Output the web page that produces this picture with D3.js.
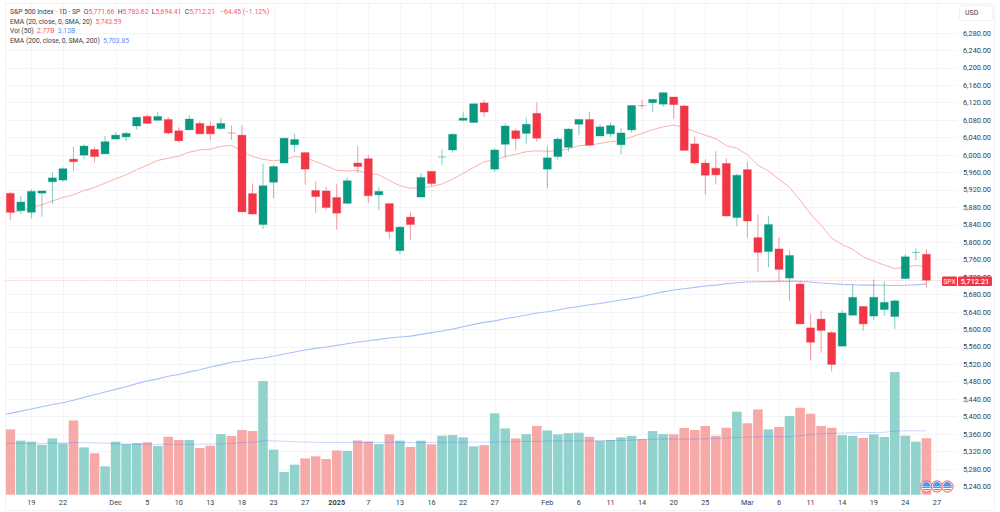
<!DOCTYPE html>
<html>
<head>
<meta charset="utf-8">
<script src="https://cdn.jsdelivr.net/npm/d3@7"></script>
<style>
  html, body { margin: 0; padding: 0; background: #fff; }
  svg { display: block; }
  text { font-family: Roboto, "Noto Sans", sans-serif; }
</style>
</head>
<body>
<svg id="chart" width="1000" height="512"></svg>
<script>
// S&P 500 daily candles, 15 Nov 2024 to 26 Mar 2025
const open = [5911.5,5871.7,5868,5912,5938,5942,5990,5999,6012,6002,6036,6041,6066,6088,6079,6081,6055,6057,6072,6066,6060,6051,6045,5911,5840,5937,5981,6023,6005,5918,5917,5902,5888.5,5981,5991,5908,5888,5780,5857,5903,5962,5994,6011,6079,6074,6119,5967,6024,6055,6049,6095,5967,5996,6017,6070,6081,6043,6048,6023,6057,6114,6119.5,6116,6132.5,6112,6025,5981,5969,5980,5856,5966,5810,5778,5784,5717,5703.5,5603,5623,5592,5561,5632,5652,5630,5645,5629,5716,5775,5771.66];
const high = [5914.5,5905,5920.6,5918,5960,5971,6018,6024,6018,6043,6052,6053,6087,6092,6098,6086,6063,6091,6077,6077,6085,6067,6068,5934,5980,5977,6039,6048,6005,5939,5927,5933,5948,6020,5999,5925,5888,5836,5870,5957.4,5962,6013,6049,6099,6117,6126,6015,6072,6060.6,6085,6120,6020,6040,6061,6081,6099,6070,6074,6061,6113.5,6126,6127,6144,6133,6114,6041.5,5989.5,6008,5992,5957,5983.4,5863,5859,5810,5781,5709,5635,5642,5596,5643,5703.5,5652,5714,5710,5668,5772,5785,5783.62];
const low = [5850,5864,5854,5858,5887,5938,5963,5990,5983,6002,6036,6031,6058,6072,6079,6046,6028,6057,6047,6034,6058,6034,5868,5864,5830,5901,5981,6006,5932,5867,5873,5828,5888,5959,5890,5873,5807,5772,5804,5903,5928,5977,6005,6076,6074,6087,5961,5994,6011,6026,6030,5923,5989,6007,6045,6022,6043,6041,6001,6051,6106,6099,6110,6083,6010,5977,5908,5932,5859,5836,5810,5732,5742,5710,5665,5612,5528,5546,5503,5561,5632,5596,5621,5631,5601,5716,5758,5694.41];
const close = [5868,5891.6,5916,5917,5947,5968,5984,6020,5996,6030,6045,6049,6086,6072,6088,6050,6032,6082,6048,6048,6072,6049,5869,5864,5929,5973,6038,6035,5967,5904,5879,5866,5940.5,5973,5906,5916,5824,5834,5840,5948,5934,5996,6047,6084,6117,6098,6011,6066,6037,6070,6038,5993,6036,6059,6081,6022,6064,6067,6050,6113,6113,6127,6142.4,6115,6010,5981,5953,5954,5859.5,5953,5848,5776,5840,5737,5769,5612,5570,5597,5519,5637,5673,5612,5673,5661.5,5665,5766,5777,5712.21];
const volume = [3.20,2.65,2.60,2.45,2.76,2.52,3.64,2.32,2.03,1.39,2.60,2.48,2.53,2.57,2.39,2.84,2.68,2.68,2.29,2.40,2.97,2.88,3.17,3.12,5.57,2.21,1.11,1.47,1.78,1.88,1.75,2.17,2.14,2.66,2.61,2.48,2.96,2.65,2.34,2.65,2.47,2.89,2.92,2.81,2.37,2.43,3.99,3.25,2.76,2.97,3.37,3.15,2.96,3.02,3.04,2.84,2.65,2.68,2.81,2.88,2.73,3.12,2.97,2.96,3.27,3.17,3.37,2.89,3.28,4.07,3.50,4.18,3.20,3.32,3.86,4.26,3.97,3.37,3.28,2.92,2.88,2.78,2.96,2.83,6.01,2.89,2.60,2.77];
const volumeAverage = [2.52,2.52,2.52,2.52,2.53,2.54,2.56,2.55,2.54,2.53,2.49,2.48,2.47,2.47,2.47,2.47,2.47,2.47,2.47,2.48,2.49,2.50,2.56,2.57,2.64,2.64,2.62,2.60,2.58,2.57,2.56,2.56,2.56,2.56,2.56,2.56,2.56,2.56,2.56,2.56,2.57,2.57,2.57,2.57,2.58,2.58,2.58,2.59,2.60,2.61,2.62,2.63,2.63,2.63,2.63,2.64,2.64,2.65,2.66,2.67,2.71,2.72,2.73,2.73,2.73,2.73,2.74,2.76,2.78,2.80,2.82,2.84,2.85,2.84,2.84,2.89,2.95,2.98,3.01,3.02,3.04,3.05,3.05,3.06,3.12,3.13,3.13,3.13];
const ema20 = [5866,5872,5879,5885,5894,5902,5908,5918,5925,5935,5945,5954,5966,5976,5987,5992,5997,6006,6011,6013,6019,6021.6,6009,5996,5989.5,5986,5989,5996,5994,5984,5975,5964,5963,5963.5,5957,5954,5941,5929,5923,5924.5,5927,5933,5944,5957,5971,5984,5988,5996,6001,6007,6009,6008,6009,6013,6021,6022,6026,6030,6033,6041,6049,6057.5,6064,6068,6063,6053,6045,6037,6021,6015,6000,5976,5963,5944,5925,5896,5864,5838,5809,5794,5783,5766,5756,5747,5739,5742,5746,5743.59];
const ema200 = [5406.8,5412,5417,5422,5427,5431,5437,5443.5,5449.5,5455.7,5461.9,5468,5475,5481,5486,5492,5496,5502,5507,5513,5518,5524,5527,5531,5534,5538,5543,5547.5,5552,5556,5559,5562.8,5566.6,5570.4,5573.5,5576.5,5579.6,5582,5584,5588,5592,5595.7,5600,5605.6,5611,5615.5,5619,5624,5628,5632.4,5637,5640,5644,5648.4,5652,5656,5659,5663,5667,5670.6,5675,5680.5,5685.5,5689.7,5692.7,5695.8,5699,5701,5704,5706.5,5708,5708.8,5709,5709.5,5710,5709.5,5708,5705.7,5704,5702.6,5702,5701,5701,5700.6,5700,5700.6,5701.5,5703.85];

// The session before the first visible bar, which the averages run in from
const priorEma200 = 5401.6;
const priorVolumeAverage = 2.52;

// Price axis values and the date labels, keyed by bar index
const priceTicks = [6280,6240,6200,6160,6120,6080,6040,6000,5960,5920,5880,5840,5800,5760,5720,5680,5640,5600,5560,5520,5480,5440,5400,5360,5320,5280,5240];
const dateTickIndex = [2,5,10,13,16,19,22,25,28,31,34,37,40,43,46,51,54,57,60,63,66,70,73,76,79,82,85,88];
const dateTickLabels = ["19","22","Dec","5","10","13","18","23","27","2025","7","13","16","22","27","Feb","6","11","14","20","25","Mar","6","11","14","19","24","27"];
const strongLabels = ["2025"];
const eventBars = [87,88,89];

const INK = "#3a3e4a", FALL = "#f45b69", BLUE = "#5b8cff";
const legendLines = [
  [["S&P 500 Index · 1D · SP", INK], ["  O", INK], ["5,771.66", FALL], ["  H", INK], ["5,783.62", FALL], ["  L", INK], ["5,694.41", FALL], ["  C", INK], ["5,712.21", FALL], ["   −64.45 (−1.12%)", FALL]],
  [["EMA (20, close, 0, SMA, 20)", INK], ["  5,743.59", FALL]],
  [["Vol (50)", INK], ["  2.77B", FALL], ["  3.13B", BLUE]],
  [["EMA (200, close, 0, SMA, 200)", INK], ["  5,703.85", BLUE]]
];

const UP = "#089981", DOWN = "#f23645";
const VOL_UP = "#92d2cc", VOL_DOWN = "#f7a9a7";
const GRID = "#f3f4f7";

const frame = { left: 5.5, right: 994.5, top: 3.5, bottom: 510.5 };
const plotRight = 957, plotBottom = 495;

const x = d3.scaleLinear().domain([0, 87]).range([10.3, 926.4]);
const y = d3.scaleLinear().domain([5240, 6280]).range([486.1, 32.7]);
const yVol = d3.scaleLinear().domain([0, 6]).range([494.7, 372.3]);

const svg = d3.select("#chart");
const bars = d3.range(close.length);

svg.append("clipPath").attr("id", "pane").append("rect")
  .attr("x", 6).attr("y", frame.top).attr("width", plotRight - 6).attr("height", plotBottom - frame.top + 1);

// Outer frame of the chart pane
svg.append("rect")
  .attr("x", frame.left).attr("y", frame.top)
  .attr("width", frame.right - frame.left).attr("height", frame.bottom - frame.top)
  .attr("fill", "#fff").attr("stroke", "#f1f2f5");

// Grid
const grid = svg.append("g");
grid.selectAll("line.h").data(priceTicks).join("line")
  .attr("x1", frame.left).attr("x2", plotRight)
  .attr("y1", d => Math.round(y(d)) + 0.5).attr("y2", d => Math.round(y(d)) + 0.5)
  .attr("stroke", GRID);
grid.selectAll("line.v").data(dateTickIndex).join("line")
  .attr("x1", d => Math.round(x(d)) + 0.5).attr("x2", d => Math.round(x(d)) + 0.5)
  .attr("y1", frame.top).attr("y2", plotBottom)
  .attr("stroke", GRID);

const pane = svg.append("g").attr("clip-path", "url(#pane)");

// Volume bars sit underneath the price series
pane.append("g").selectAll("rect").data(bars).join("rect")
  .attr("x", i => x(i) - 4.8).attr("width", 9.6)
  .attr("y", i => yVol(volume[i]))
  .attr("height", i => yVol(0) - yVol(volume[i]))
  .attr("fill", i => close[i] >= open[i] ? VOL_UP : VOL_DOWN);

const volLine = d3.line().x(d => x(d[0])).y(d => yVol(d[1]));
pane.append("path").attr("d", volLine([[-1, priorVolumeAverage], ...bars.map(i => [i, volumeAverage[i]])]))
  .attr("fill", "none").attr("stroke", "#2962ff").attr("stroke-opacity", 0.25).attr("stroke-width", 1);

// Moving averages
const priceLine = d3.line().x(d => x(d[0])).y(d => y(d[1]));
pane.append("path").attr("d", priceLine(bars.map(i => [i, ema20[i]])))
  .attr("fill", "none").attr("stroke", "#fbb0ac").attr("stroke-width", 1);
pane.append("path").attr("d", priceLine([[-1, priorEma200], ...bars.map(i => [i, ema200[i]])]))
  .attr("fill", "none").attr("stroke", "#a8c0fb").attr("stroke-width", 1.1);

// Last price marker line
svg.append("line")
  .attr("x1", frame.left).attr("x2", plotRight)
  .attr("y1", Math.round(y(close[87])) + 0.5).attr("y2", Math.round(y(close[87])) + 0.5)
  .attr("stroke", DOWN).attr("stroke-opacity", 0.4)
  .attr("stroke-dasharray", "1 2");

// Candles; near-flat sessions read as a faint cross
const flat = i => Math.abs(y(open[i]) - y(close[i])) < 1.2;
const candles = pane.append("g").selectAll("g").data(bars).join("g");
candles.append("line")
  .attr("x1", i => x(i)).attr("x2", i => x(i))
  .attr("y1", i => y(high[i])).attr("y2", i => y(low[i]))
  .attr("stroke", i => close[i] >= open[i] ? UP : DOWN)
  .attr("stroke-opacity", 0.5).attr("stroke-width", 1);
candles.append("rect")
  .attr("x", i => x(i) - 4).attr("width", 8)
  .attr("y", i => y(Math.max(open[i], close[i])))
  .attr("height", i => Math.max(1, Math.abs(y(open[i]) - y(close[i]))))
  .attr("fill", i => close[i] >= open[i] ? UP : DOWN)
  .attr("fill-opacity", i => flat(i) ? 0.5 : 1)
  .attr("stroke", i => close[i] >= open[i] ? UP : DOWN)
  .attr("stroke-opacity", i => flat(i) ? 0 : 0.3).attr("stroke-width", 1);

// Price axis
const yAxis = d3.axisRight(y).tickValues(priceTicks).tickFormat(d3.format(",.2f")).tickSize(0).tickPadding(0);
const yAxisG = svg.append("g").attr("transform", "translate(963,0)").call(yAxis);
yAxisG.select(".domain").remove();
yAxisG.selectAll("text").attr("font-size", 7.3).attr("fill", INK).style("font-family", "Roboto, sans-serif");

// Date axis
svg.append("g").selectAll("text").data(dateTickIndex).join("text")
  .attr("x", i => x(i)).attr("y", 505)
  .attr("text-anchor", "middle").attr("font-size", 7.3)
  .attr("font-weight", (i, k) => strongLabels.includes(dateTickLabels[k]) ? 700 : 400)
  .attr("fill", INK).text((i, k) => dateTickLabels[k]);

// Currency button
svg.append("rect").attr("x", 959.5).attr("y", 5.5).attr("width", 33).attr("height", 15).attr("rx", 2)
  .attr("fill", "#fff").attr("stroke", "#eef0f3");
svg.append("text").attr("x", 965).attr("y", 15.4).attr("font-size", 7).attr("fill", INK).text("USD");

// Last price tags
const tagY = Math.round(y(close[87]));
svg.append("rect").attr("x", 942).attr("y", tagY - 3.5).attr("width", 15).attr("height", 9.5).attr("rx", 1).attr("fill", DOWN);
svg.append("rect").attr("x", 958).attr("y", tagY - 3.5).attr("width", 34).attr("height", 9.5).attr("rx", 1).attr("fill", DOWN);
svg.append("text").attr("x", 949.5).attr("y", tagY + 3.8).attr("text-anchor", "middle").attr("font-size", 6.6).attr("fill", "#fff").text("SPX");
svg.append("text").attr("x", 975).attr("y", tagY + 3.8).attr("text-anchor", "middle").attr("font-size", 7.3).attr("font-weight", 500).attr("fill", "#fff").text(d3.format(",.2f")(close[87]));

// Economic event badges near the date axis
const badge = svg.append("g").selectAll("g").data(eventBars).join("g")
  .attr("transform", i => `translate(${x(i)},486.5)`);
badge.append("circle").attr("r", 5.6).attr("fill", "#fff").attr("stroke", "#f0505c").attr("stroke-width", 1);
badge.append("path").attr("d", d3.arc()({ innerRadius: 0, outerRadius: 4.4, startAngle: -Math.PI / 2, endAngle: Math.PI / 2 })).attr("fill", "#4a9cf0");
badge.append("rect").attr("x", -4.2).attr("y", 0.4).attr("width", 8.4).attr("height", 1).attr("fill", "#f0505c");
badge.append("rect").attr("x", -3.2).attr("y", 2.6).attr("width", 6.4).attr("height", 1).attr("fill", "#f0505c");

// Legend rows
const legend = svg.append("g");
legendLines.forEach((row, r) => {
  const line = legend.append("text").attr("x", 10).attr("y", 13.9 + r * 9.6).attr("font-size", 6.78).style("white-space", "pre");
  row.forEach(([label, color]) => line.append("tspan").attr("fill", color).text(label));
});
</script>
</body>
</html>
